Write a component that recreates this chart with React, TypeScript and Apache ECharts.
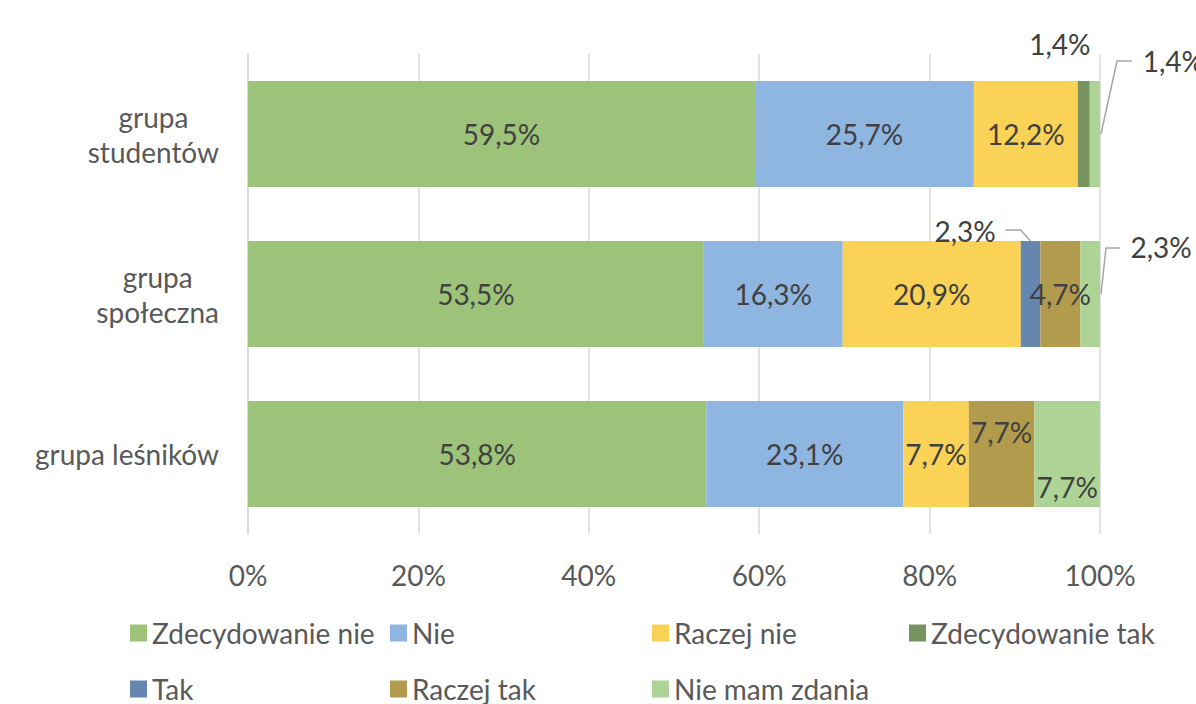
import React, { useEffect, useRef } from "react";
import * as echarts from "echarts";

const categoryLabels = ["grupa\nstudentów", "grupa\nspołeczna", "grupa leśników"];
const seriesNames = [
  "Zdecydowanie nie",
  "Nie",
  "Raczej nie",
  "Zdecydowanie tak",
  "Tak",
  "Raczej tak",
  "Nie mam zdania",
];
const zdecydowanieNie = [59.5, 53.5, 53.8];
const nie = [25.7, 16.3, 23.1];
const raczejNie = [12.2, 20.9, 7.7];
const zdecydowanieTak = [1.4, 0, 0];
const tak = [0, 2.3, 0];
const raczejTak = [0, 4.7, 7.7];
const nieMamZdania = [1.4, 2.3, 7.7];
const xTicks = [0, 20, 40, 60, 80, 100];

const seriesValues = [zdecydowanieNie, nie, raczejNie, zdecydowanieTak, tak, raczejTak, nieMamZdania];
const colors = ["#9DC37A", "#8FB5E1", "#F9D256", "#76925F", "#6586AF", "#B39B4E", "#ADD496"];

const FONT = "Lato";
const FS = 28;
const BAR_W = 106;
const LABEL_COLOR = "#404040";
const AXIS_COLOR = "#595959";

// label placement overrides (style), keyed "series-category"
const labelOverrides: Record<string, any> = {
  "3-0": { position: [-18, -37], align: "center", verticalAlign: "middle" },
  "6-0": { position: [53, -20], align: "left", verticalAlign: "middle" },
  "4-1": { position: [-25, -10], align: "right", verticalAlign: "middle" },
  "6-1": { position: [50, 6], align: "left", verticalAlign: "middle" },
  "5-2": { position: ["50%", 31], align: "center", verticalAlign: "middle" },
  "6-2": { position: ["50%", 86], align: "center", verticalAlign: "middle" },
};

// leader lines: which segment, anchor type, pixel offsets (style)
const leaders = [
  { series: 6, cat: 0, anchor: "end", pts: [[1, 0], [17, -73], [32, -73]] },
  { series: 4, cat: 1, anchor: "top", pts: [[0, 0], [-10, -11], [-25, -11]] },
  { series: 6, cat: 1, anchor: "end", pts: [[1, 0], [6, -46], [20, -46]] },
];

const fmt = (v: number) => (v ? v.toFixed(1).replace(".", ",") + "%" : "");

const legendPos = [
  [130, 0],
  [390, 0],
  [652, 0],
  [909, 0],
  [130, 1],
  [390, 1],
  [652, 1],
];

export default function App() {
  const ref = useRef<HTMLDivElement>(null);
  useEffect(() => {
    if (!ref.current) return;
    const chart = echarts.init(ref.current, null, { renderer: "svg" });

    const barSeries = seriesNames.map((name, si) => ({
      name,
      type: "bar",
      stack: "total",
      barWidth: BAR_W,
      clip: true,
      itemStyle: { color: colors[si] },
      label: {
        show: true,
        position: "inside",
        formatter: (p: any) => fmt(p.value),
        color: LABEL_COLOR,
        fontFamily: FONT,
        fontSize: FS,
      },
      data: seriesValues[si].map((v, ci) => {
        const o = labelOverrides[`${si}-${ci}`];
        return o ? { value: v, label: o } : v;
      }),
    }));

    const leaderData = leaders.map((l) => {
      let before = 0;
      for (let s = 0; s < l.series; s++) before += seriesValues[s][l.cat];
      const v = seriesValues[l.series][l.cat];
      const x = l.anchor === "end" ? Math.min(100, before + v) : before + v / 2;
      return [x, l.cat];
    });

    const leaderSeries = {
      type: "custom",
      silent: true,
      z: 5,
      encode: { x: 0, y: 1 },
      data: leaderData,
      renderItem: (params: any, api: any) => {
        const l = leaders[params.dataIndex];
        const p = api.coord([api.value(0), api.value(1)]);
        const ay = l.anchor === "top" ? p[1] - BAR_W / 2 : p[1];
        return {
          type: "polyline",
          shape: { points: l.pts.map((o) => [p[0] + o[0], ay + o[1]]) },
          style: { stroke: "#A6A6A6", lineWidth: 1.5, fill: "none" },
        };
      },
    };

    const legends = seriesNames.map((name, i) => ({
      data: [name],
      left: legendPos[i][0],
      top: legendPos[i][1] === 0 ? 619 : 675,
      padding: 0,
      icon: "rect",
      itemWidth: 17,
      itemHeight: 17,
      selectedMode: false,
      textStyle: { fontFamily: FONT, fontSize: FS, color: AXIS_COLOR },
    }));

    chart.setOption({
      animation: false,
      textStyle: { fontFamily: FONT },
      color: colors,
      legend: legends,
      grid: { left: 248, right: 96, top: 54, height: 480 },
      xAxis: {
        type: "value",
        min: 0,
        max: 100,
        interval: 20,
        axisLine: { show: false },
        axisTick: { show: false },
        splitLine: { lineStyle: { color: "#D9D9D9", width: 1.5 } },
        axisLabel: {
          margin: 27,
          color: AXIS_COLOR,
          fontFamily: FONT,
          fontSize: FS,
          formatter: (v: number) => (xTicks.includes(v) ? v + "%" : ""),
        },
      },
      yAxis: {
        type: "category",
        inverse: true,
        data: categoryLabels,
        axisLine: { show: true, lineStyle: { color: "#D9D9D9", width: 1.5 } },
        axisTick: { show: false },
        axisLabel: {
          margin: 29,
          color: AXIS_COLOR,
          fontFamily: FONT,
          fontSize: FS,
          formatter: (v: string) => v.split("\n").map((s) => `{c|${s}}`).join("\n"),
          rich: {
            c: { align: "center", fontFamily: FONT, fontSize: FS, color: AXIS_COLOR, lineHeight: 35 },
          },
        },
      },
      series: [...barSeries, leaderSeries],
    });
    return () => chart.dispose();
  }, []);
  return (
    <div
      ref={ref}
      style={{ position: "fixed", left: 0, top: 0, width: 1196, height: 704, background: "#fff" }}
    />
  );
}
